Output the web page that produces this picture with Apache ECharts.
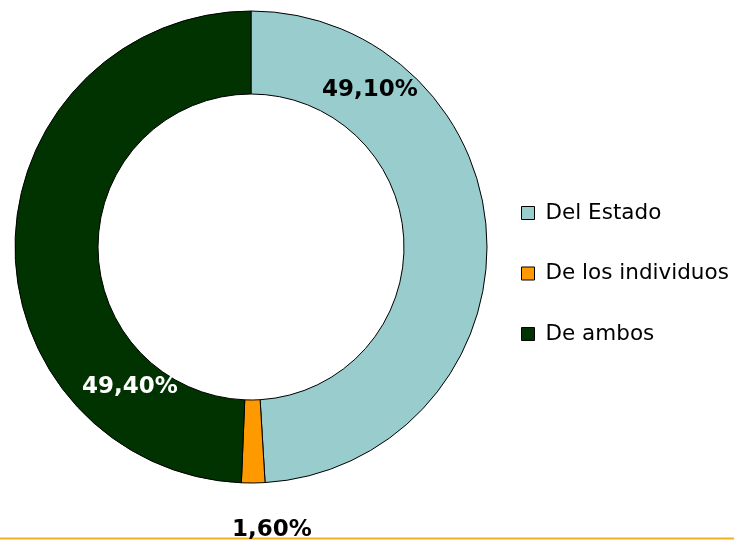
<!DOCTYPE html>
<html><head><meta charset="utf-8">
<script src="https://cdn.jsdelivr.net/npm/echarts@6/dist/echarts.min.js"></script>
<style>html,body{margin:0;padding:0;background:#fff}#c{width:734px;height:540px}</style>
</head><body><div id="c"></div>
<script>
const categories = ['Del Estado', 'De los individuos', 'De ambos'];
const values = [49.1, 1.6, 49.4];
const labelsText = ['49,10%', '1,60%', '49,40%'];
const colors = ['#99CCCC', '#FF9900', '#003300'];
const labelColors = ['#000', '#000', '#fff'];
const labelPos = [[370, 90], [272, 530], [130, 387]];

const chart = echarts.init(document.getElementById('c'));
chart.setOption({
  animation: false,
  legend: {
    orient: 'vertical', left: 516, top: 197,
    itemWidth: 13, itemHeight: 13, itemGap: 38.5, icon: 'rect',
    data: categories,
    textStyle: { fontFamily: 'DejaVu Sans', fontSize: 21.5, color: '#000', lineHeight: 22, padding: [0, 0, 0, 6] },
    itemStyle: { borderColor: '#000', borderWidth: 1 }
  },
  graphic: [{
    type: 'line', shape: { x1: 0, y1: 538.5, x2: 734, y2: 538.5 },
    style: { stroke: '#F2B01E', lineWidth: 2 }
  }],
  series: [{
    type: 'pie', center: [251, 247], radius: [153, 236],
    startAngle: 90, clockwise: true, avoidLabelOverlap: false,
    itemStyle: { borderColor: '#000', borderWidth: 1 },
    label: {
      show: true, position: 'inside',
      fontFamily: 'DejaVu Sans', fontWeight: 'bold', fontSize: 23,
      formatter: p => labelsText[p.dataIndex],
      color: '#000'
    },
    labelLine: { show: false },
    labelLayout: p => ({ x: labelPos[p.dataIndex][0], y: labelPos[p.dataIndex][1], align: 'center', verticalAlign: 'middle' }),
    emphasis: { disabled: true },
    data: categories.map((n, i) => ({
      name: n, value: values[i],
      itemStyle: { color: colors[i] },
      label: { color: labelColors[i] }
    }))
  }]
});
</script></body></html>
